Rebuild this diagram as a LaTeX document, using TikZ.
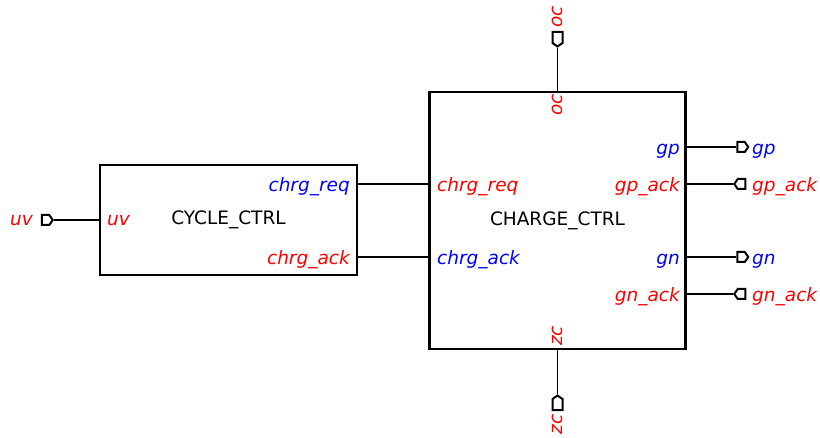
\documentclass[tikz,border=0pt]{standalone}
\usepackage{fontspec}
\setmainfont{DejaVu Sans}
\usetikzlibrary{shapes.symbols}
\newcommand\sigfont{\fontsize{18.5}{21}\selectfont}
\tikzset{
  blk/.style={draw,line width=2.4pt,inner sep=0pt,font=\sigfont},
  port/.style={shape=signal,draw,line width=2pt,minimum width=11pt,minimum height=10pt,inner sep=0pt,signal pointer angle=110},
  wr/.style={line width=1.5pt},
  il/.style={font=\sigfont\itshape,text=red,inner sep=0pt},
  ol/.style={font=\sigfont\itshape,text=blue,inner sep=0pt},
  lw/.style={anchor=base west,yshift=-8pt},
  le/.style={anchor=base east,yshift=-8pt},
}

\begin{document}
\begin{tikzpicture}[x=1pt,y=1pt]
  \useasboundingbox (0,0) rectangle (820,437);

  \node[blk,minimum width=257pt,minimum height=110pt] (cyc) at (228.5,217) {CYCLE\_CTRL};
  \node[blk,minimum width=256pt,minimum height=257pt] (chg) at (557.5,216.5) {CHARGE\_CTRL};

  % pins on the blocks
  \coordinate (cyc-uv) at (cyc.west |- 0,217);
  \coordinate (cyc-req) at (cyc.east |- 0,253);
  \coordinate (cyc-ack) at (cyc.east |- 0,180);
  \coordinate (chg-req) at (chg.west |- 0,253);
  \coordinate (chg-ack) at (chg.west |- 0,180);
  \coordinate (chg-oc) at (chg.north);
  \coordinate (chg-zc) at (chg.south);
  \coordinate (chg-gp) at (chg.east |- 0,290);
  \coordinate (chg-gpa) at (chg.east |- 0,253);
  \coordinate (chg-gn) at (chg.east |- 0,180);
  \coordinate (chg-gna) at (chg.east |- 0,143);

  % ports
  \node[port,signal to=east] (puv) at (45.5,217) {};
  \node[port,signal to=south,minimum width=10pt,minimum height=11pt] (poc) at (557.5,399.5) {};
  \node[port,signal to=north,minimum width=10pt,minimum height=11pt] (pzc) at (557.5,32.5) {};
  \node[port,signal to=east] (pgp) at (741,290) {};
  \node[port,signal to=west] (pgpa) at (741.5,253) {};
  \node[port,signal to=east] (pgn) at (741,180) {};
  \node[port,signal to=west] (pgna) at (741.5,143) {};

  % wires
  \draw[wr] (puv.east) -- (cyc-uv);
  \draw[wr] (cyc-req) -- (chg-req);
  \draw[wr] (cyc-ack) -- (chg-ack);
  \draw[wr] (chg-oc) -- (poc.south);
  \draw[wr] (chg-zc) -- (pzc.north);
  \draw[wr] (chg-gp) -- (pgp.west);
  \draw[wr] (chg-gpa) -- (pgpa.west);
  \draw[wr] (chg-gn) -- (pgn.west);
  \draw[wr] (chg-gna) -- (pgna.west);

  % labels
  \node[il,le,yshift=2pt] (luv) at (33,217) {uv};
  \node[il,lw,yshift=2pt] (iuv) at (107,217) {uv};
  \node[ol,le] (ireq) at (350,253) {chrg\_req};
  \node[il,le] (iack) at (350,180) {chrg\_ack};
  \node[il,lw] (jreq) at (437,253) {chrg\_req};
  \node[ol,lw] (jack) at (437,180) {chrg\_ack};
  \node[ol,le] (igp) at (680,290) {gp};
  \node[il,le] (igpa) at (680,253) {gp\_ack};
  \node[ol,le] (ign) at (680,180) {gn};
  \node[il,le] (igna) at (680,143) {gn\_ack};
  \node[ol,lw] (lgp) at (752,290) {gp};
  \node[il,lw] (lgpa) at (752,253) {gp\_ack};
  \node[ol,lw] (lgn) at (752,180) {gn};
  \node[il,lw] (lgna) at (752,143) {gn\_ack};
  \node[il,rotate=90,anchor=west] (loc) at (557.5,409) {oc};
  \node[il,rotate=90,anchor=east] (ioc) at (557.5,343) {oc};
  \node[il,rotate=90,anchor=west] (izc) at (557.5,91) {zc};
  \node[il,rotate=90,anchor=east] (lzc) at (557.5,23) {zc};
\end{tikzpicture}
\end{document}
